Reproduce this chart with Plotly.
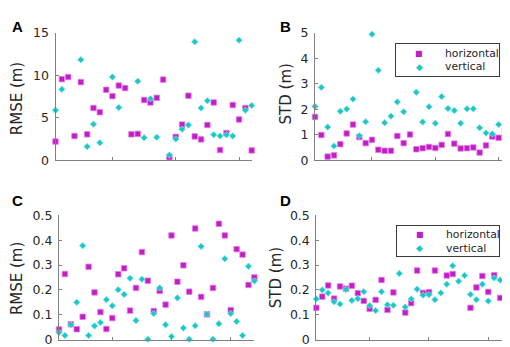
import plotly.graph_objects as go

# ---------------- data ----------------
xA = list(range(1, 33))
A_h = [2.2, 9.55, 9.8, 2.85, 9.2, 3.05, 6.15, 5.65, 8.3, 7.55, 8.8, 8.5, 3.05, 3.1, 7.1, 6.8,
       7.35, 9.5, 0.35, 2.75, 4.2, 7.6, 2.8, 2.45, 4.15, 6.8, 1.2, 3.2, 6.5, 4.8, 6.15, 1.15]
A_v = [5.9, 8.35, None, None, 11.85, 1.6, 4.25, 2.05, None, 9.8, 6.2, None, None, 9.3, 2.65, 7.25,
       2.7, None, 0.6, 2.5, 3.65, 4.15, 13.95, 6.15, 7.0, 3.0, 2.85, 3.0, 2.85, 14.15, 5.9, 6.45]

B_h = [1.70, 0.99, 0.14, 0.19, 0.63, 1.05, 1.40, 0.91, 0.67, 0.80, 0.41, 0.37, 0.37, 0.95, 0.67, 1.01,
       0.43, 0.47, 0.52, 0.48, 0.60, 1.03, 0.65, 0.46, 0.47, 0.50, 0.30, 0.58, 0.93, 0.88, 1.15, 0.67]
B_v = [2.11, 2.86, 1.30, 0.56, 1.92, 2.01, 2.40, 0.96, 1.51, 4.95, 3.53, 1.47, 1.73, 2.29, 1.90, None,
       2.67, 1.50, 2.10, 1.45, 2.50, 2.03, 1.95, 1.45, 2.02, 2.02, 1.27, 1.07, 1.03, 1.40, 1.20, 0.85]

xC = list(range(1, 35))
C_h = [0.041, 0.264, 0.062, 0.042, 0.092, 0.293, 0.190, 0.111, 0.043, 0.087, 0.263, 0.287, 0.117,
       0.208, 0.352, 0.237, 0.115, 0.196, 0.141, 0.419, 0.233, 0.299, 0.193, 0.447, 0.172, 0.102,
       0.208, 0.466, 0.419, 0.119, 0.364, 0.342, 0.220, 0.250]
C_v = [0.029, 0.017, 0.060, 0.150, 0.378, 0.017, 0.055, 0.069, 0.161, 0.136, 0.201, 0.182, 0.247,
       0.077, 0.243, 0.002, 0.105, 0.208, 0.060, 0.013, 0.168, 0.047, 0.002, 0.056, 0.375, 0.102,
       0.002, 0.064, 0.325, 0.105, 0.073, 0.017, 0.295, 0.236]

D_h = [0.128, 0.173, 0.218, 0.165, 0.214, 0.205, 0.217, 0.187, 0.156, 0.124, 0.160, 0.240, 0.120,
       0.190, None, 0.109, 0.147, 0.278, 0.188, 0.191, 0.278, None, 0.258, 0.264, None, None,
       0.128, 0.210, 0.256, 0.192, 0.259, 0.168, 0.345, 0.317]
D_v = [0.164, 0.200, 0.188, 0.152, 0.143, 0.202, 0.158, 0.165, 0.193, 0.137, 0.117, 0.193, 0.140,
       0.138, 0.266, 0.131, 0.164, 0.203, 0.179, 0.181, 0.161, 0.188, 0.223, 0.297, 0.235, 0.258,
       0.182, 0.161, 0.223, 0.155, 0.248, 0.240, 0.206, 0.290]

series_names = ["horizontal", "vertical"]
ticksA = [0, 5, 10, 15]
ticksB = [0, 1, 2, 3, 4, 5]
ticksCD = [0, 0.1, 0.2, 0.3, 0.4, 0.5]
xticks = [10, 20, 30]

# ---------------- style ----------------
W, H = 510, 347
MAG, MAG_E = "#c21cc6", "#e27ee4"
CYA, CYA_E = "#1cc6c6", "#7ee2e2"
AXC = "#808080"
TXT = "#262626"
FONT = "DejaVu Sans"


def px(x):
    return x / W


def py(y):
    return 1 - y / H


panels = {
    "A": dict(x=(47.5, 243.7), y=(17.7, 150.7)),
    "B": dict(x=(307.0, 503.3), y=(17.7, 150.7)),
    "C": dict(x=(51.0, 246.4), y=(208.3, 338.3)),
    "D": dict(x=(308.3, 504.0), y=(208.3, 338.3)),
}

fig = go.Figure()


def add_pair(xs, h, v, ax):
    xa = "x" if ax == 1 else f"x{ax}"
    ya = "y" if ax == 1 else f"y{ax}"
    fig.add_trace(go.Scatter(
        x=xs, y=h, mode="markers", name=series_names[0], xaxis=xa, yaxis=ya,
        cliponaxis=False, showlegend=False,
        marker=dict(symbol="square", size=5.5, color=MAG, line=dict(color=MAG_E, width=0.8))))
    fig.add_trace(go.Scatter(
        x=xs, y=v, mode="markers", name=series_names[1], xaxis=xa, yaxis=ya,
        cliponaxis=False, showlegend=False,
        marker=dict(symbol="diamond", size=5, color=CYA, line=dict(color=CYA_E, width=0.8))))


add_pair(xA, A_h, A_v, 1)
add_pair(xA, B_h, B_v, 2)
add_pair(xC, C_h, C_v, 3)
add_pair(xC, D_h, D_v, 4)


def xaxis(dom, rng, anchor):
    return dict(domain=[px(dom[0]), px(dom[1])], range=rng, anchor=anchor,
                showline=True, linecolor=AXC, linewidth=1, showgrid=False, zeroline=False,
                ticks="inside", ticklen=3, tickcolor=AXC, tickvals=xticks,
                showticklabels=False, fixedrange=True)


def yaxis(dom, rng, tv, anchor, fmt):
    return dict(domain=[py(dom[1]), py(dom[0])], range=rng, anchor=anchor,
                showline=True, linecolor=AXC, linewidth=1, showgrid=False, zeroline=False,
                ticks="inside", ticklen=3, tickcolor=AXC, tickvals=tv,
                ticktext=[fmt(t) for t in tv], ticklabelstandoff=3,
                tickfont=dict(family=FONT, size=12.5, color=TXT), fixedrange=True)


fmt_int = lambda t: f"{t:g}"

fig.update_layout(
    width=W, height=H, margin=dict(l=0, r=0, t=0, b=0),
    paper_bgcolor="white", plot_bgcolor="white", showlegend=False,
    xaxis=xaxis(panels["A"]["x"], [1, 32], "y"),
    yaxis=yaxis(panels["A"]["y"], [0, 15], ticksA, "x", fmt_int),
    xaxis2=xaxis(panels["B"]["x"], [1, 32], "y2"),
    yaxis2=yaxis(panels["B"]["y"], [0, 5], ticksB, "x2", fmt_int),
    xaxis3=xaxis(panels["C"]["x"], [1, 34], "y3"),
    yaxis3=yaxis(panels["C"]["y"], [0, 0.5], ticksCD, "x3", fmt_int),
    xaxis4=xaxis(panels["D"]["x"], [1, 34], "y4"),
    yaxis4=yaxis(panels["D"]["y"], [0, 0.5], ticksCD, "x4", fmt_int),
)

# legend boxes (panels B and D), drawn as an opaque framed key
legend_boxes = [dict(x0=387, x1=492, y0=29.3, y1=63.3), dict(x0=387.7, x1=492, y0=219.3, y1=251.7)]
for b in legend_boxes:
    bw_ = b["x1"] - b["x0"]
    bh_ = b["y1"] - b["y0"]
    # framed background box (annotation with border)
    fig.add_annotation(text=" ", x=px((b["x0"] + b["x1"]) / 2), y=py((b["y0"] + b["y1"]) / 2),
                       xref="paper", yref="paper", xanchor="center", yanchor="middle",
                       showarrow=False, width=bw_ - 2, height=bh_ - 2, borderpad=0,
                       bgcolor="white", bordercolor="#3a3a3a", borderwidth=1,
                       font=dict(family=FONT, size=10, color=TXT))
    rows = [b["y0"] + 10, b["y0"] + 24] if bh_ > 33 else [b["y0"] + 9.4, b["y0"] + 23.4]
    glyphs = [("■", MAG, 8), ("◆", CYA, 9)]
    for (g, c, s), name, ry in zip(glyphs, series_names, rows):
        fig.add_annotation(text=g, x=px(b["x0"] + 24), y=py(ry), xref="paper", yref="paper",
                           xanchor="center", yanchor="middle", showarrow=False,
                           font=dict(family=FONT, size=s, color=c))
        fig.add_annotation(text=name, x=px(b["x0"] + 48), y=py(ry), xref="paper", yref="paper",
                           xanchor="left", yanchor="middle", showarrow=False,
                           font=dict(family=FONT, size=10.8, color=TXT))

# axis titles and panel letters
titles = [("RMSE (m)", 9, 87), ("STD (m)", 278, 82), ("RMSE (m)", 9, 275), ("STD (m)", 268, 274)]
for t, x, y in titles:
    fig.add_annotation(text=t, x=px(x), y=py(y), xref="paper", yref="paper",
                       xanchor="center", yanchor="middle", textangle=-90, showarrow=False,
                       font=dict(family=FONT, size=15, color=TXT))

letters = [("A", 9, 11), ("B", 277, 11), ("C", 9, 193), ("D", 277, 193)]
for t, x, y in letters:
    fig.add_annotation(text=f"<b>{t}</b>", x=px(x), y=py(y), xref="paper", yref="paper",
                       xanchor="center", yanchor="middle", showarrow=False,
                       font=dict(family="Liberation Sans", size=15, color="black"))

fig.write_html("out.html")
